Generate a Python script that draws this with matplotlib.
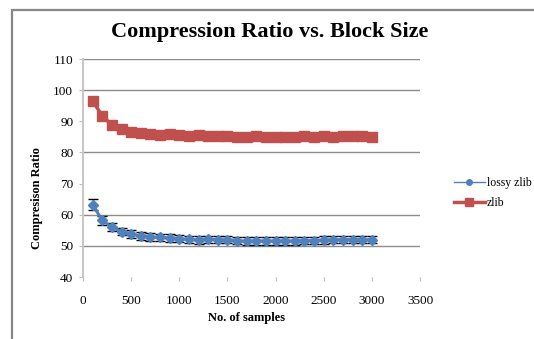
import matplotlib
matplotlib.use("Agg")
import matplotlib.pyplot as plt
from matplotlib.lines import Line2D
from matplotlib.patches import Rectangle

plt.rcParams['font.family'] = ['Liberation Serif', 'DejaVu Serif']

samples = [100, 200, 300, 400, 500, 600, 700, 800, 900, 1000,
           1100, 1200, 1300, 1400, 1500, 1600, 1700, 1800, 1900, 2000,
           2100, 2200, 2300, 2400, 2500, 2600, 2700, 2800, 2900, 3000]
lossy_zlib = [63.2, 58.2, 56.0, 54.6, 53.8, 53.2, 52.9, 52.7, 52.5, 52.3,
              52.1, 51.9, 52.1, 52.0, 52.0, 51.7, 51.5, 51.6, 51.6, 51.6,
              51.6, 51.6, 51.7, 51.7, 51.9, 52.0, 52.0, 52.0, 52.0, 52.0]
lossy_err = [1.7, 1.4, 1.2, 1.2, 1.2, 1.2, 1.2, 1.2, 1.2, 1.2,
             1.2, 1.2, 1.2, 1.2, 1.2, 1.2, 1.2, 1.2, 1.2, 1.2,
             1.2, 1.2, 1.2, 1.2, 1.2, 1.2, 1.2, 1.2, 1.2, 1.2]
zlib = [96.6, 91.7, 88.8, 87.5, 86.7, 86.2, 85.9, 85.6, 85.8, 85.6,
        85.3, 85.6, 85.3, 85.2, 85.3, 85.1, 85.1, 85.2, 85.1, 85.1,
        85.1, 85.1, 85.2, 85.1, 85.2, 85.1, 85.2, 85.2, 85.2, 85.1]

x_ticks = [0, 500, 1000, 1500, 2000, 2500, 3000, 3500]
y_ticks = [40, 50, 60, 70, 80, 90, 100, 110]
grid_levels = [50, 60, 80, 100, 110]

BLUE = '#4f81bd'
RED = '#c0504d'

fig = plt.figure(figsize=(5.34, 3.39), dpi=100)

# outer chart frame
frame = Rectangle((12 / 534, -0.2), 1.2, 1.2 - 10 / 339,
                  transform=fig.transFigure, fill=False,
                  edgecolor='#878787', linewidth=1.6, clip_on=False)
fig.patches.append(frame)

ax = fig.add_axes([83 / 534, 1 - 277 / 339, (420 - 83) / 534, (277 - 59) / 339])

for lvl in grid_levels:
    ax.axhline(lvl, color='#8c8c8c', linewidth=1.0, zorder=0)

ax.errorbar(samples, lossy_zlib, yerr=lossy_err, color=BLUE, linewidth=2.2,
            marker='D', markersize=5.5, ecolor='black', elinewidth=1.0,
            capsize=3.5, capthick=1.0, zorder=3)
ax.plot(samples, zlib, color=RED, linewidth=2.5, marker='s',
        markersize=7.5, zorder=3)

ax.set_xlim(0, 3500)
ax.set_ylim(40, 110)
ax.set_xticks(x_ticks)
ax.set_yticks(y_ticks)
ax.tick_params(axis='both', labelsize=9.5, colors='#bdbdbd', length=3,
               labelcolor='black')
ax.tick_params(axis='x', pad=10)
ax.tick_params(axis='y', pad=4)

for side in ['top', 'right', 'bottom']:
    ax.spines[side].set_visible(False)
ax.spines['left'].set_color('#c8c8c8')
ax.spines['left'].set_linewidth(1.5)

fig.text(270 / 534, 1 - 32 / 339, 'Compression Ratio vs. Block Size',
         ha='center', va='center', fontsize=16, fontweight='bold')
fig.text(246 / 534, 1 - 318 / 339, 'No. of samples', ha='center',
         va='center', fontsize=9, fontweight='bold')
fig.text(37 / 534, 1 - 198 / 339, 'Compresison Ratio', ha='center',
         va='center', fontsize=9, fontweight='bold', rotation=90)

handles = [Line2D([], [], color=BLUE, linewidth=1.0, marker='o', markersize=4),
           Line2D([], [], color=RED, linewidth=2.5, marker='s', markersize=6)]
fig.legend(handles, ['lossy zlib', 'zlib'], loc='center left',
           bbox_to_anchor=(448 / 534, 1 - 193 / 339), frameon=False,
           fontsize=8.5, handlelength=2.6, handletextpad=0.2,
           labelspacing=0.7, borderpad=0)

fig.savefig('out.png', dpi=100)
